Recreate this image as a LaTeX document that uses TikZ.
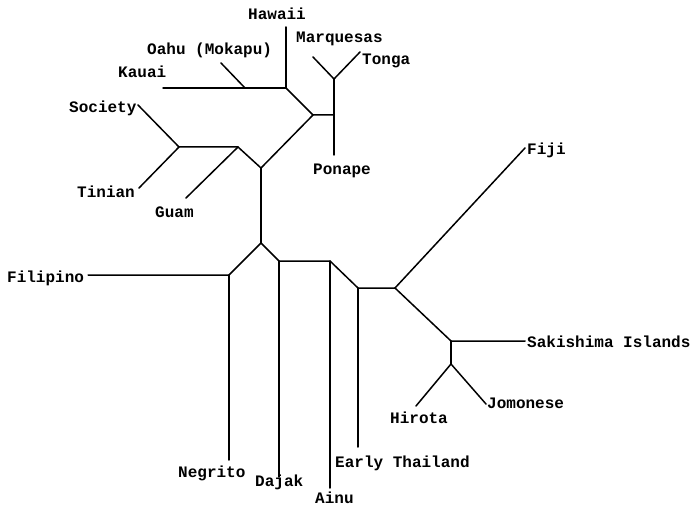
\documentclass[tikz,border=0pt]{standalone}
\usepackage{fontspec}
\setmonofont{Liberation Mono}
\begin{document}
\begin{tikzpicture}[x=1pt,y=-1pt,
  edge/.style={line width=1.5pt,line cap=round,line join=round},
  lbl/.style={inner sep=0pt,anchor=base west,font=\ttfamily\bfseries\fontsize{16}{16}\selectfont}]
\useasboundingbox[fill=white] (0,0) rectangle (691,508);
% internal vertices
\coordinate (hw) at (286,88);
\coordinate (oh) at (245,88);
\coordinate (pm) at (313,115);
\coordinate (pp) at (334,115);
\coordinate (mt) at (334,79);
\coordinate (st) at (179,147);
\coordinate (gu) at (238,147);
\coordinate (pa) at (261,168);
\coordinate (root) at (261,243);
\coordinate (fi) at (229,275);
\coordinate (dj) at (279,261);
\coordinate (ai) at (330,261);
\coordinate (et) at (358,288);
\coordinate (fj) at (395,288);
\coordinate (sk) at (451,341);
\coordinate (hj) at (451,364);
% leaf ends
\coordinate (eHawaii) at (286,27);
\coordinate (eKauai) at (163,88);
\coordinate (eOahu) at (221,63);
\coordinate (eMarq) at (313,57);
\coordinate (eTonga) at (360,52);
\coordinate (ePonape) at (334,155);
\coordinate (eSociety) at (138,105);
\coordinate (eTinian) at (139,188);
\coordinate (eGuam) at (186,198);
\coordinate (eFilipino) at (88,275);
\coordinate (eNegrito) at (229,460);
\coordinate (eDajak) at (279,477);
\coordinate (eAinu) at (330,488);
\coordinate (eEarly) at (358,447);
\coordinate (eFiji) at (525,148);
\coordinate (eSaki) at (525,341);
\coordinate (eHirota) at (416,406);
\coordinate (eJomo) at (486,404);
% labels
\node[lbl] (Hawaii) at (248,20) {Hawaii};
\node[lbl] (Oahu) at (147,55) {Oahu (Mokapu)};
\node[lbl] (Marq) at (296,43) {Marquesas};
\node[lbl] (Tonga) at (362,65) {Tonga};
\node[lbl] (Kauai) at (118,78) {Kauai};
\node[lbl] (Society) at (69,113) {Society};
\node[lbl] (Tinian) at (77,197) {Tinian};
\node[lbl] (Guam) at (155,218) {Guam};
\node[lbl] (Ponape) at (313,175) {Ponape};
\node[lbl] (Filipino) at (7,282) {Filipino};
\node[lbl] (Negrito) at (178,477) {Negrito};
\node[lbl] (Dajak) at (255,486) {Dajak};
\node[lbl] (Ainu) at (315,503) {Ainu};
\node[lbl] (Early) at (335,467) {Early Thailand};
\node[lbl] (Hirota) at (390,423) {Hirota};
\node[lbl] (Fiji) at (527,155) {Fiji};
\node[lbl] (Saki) at (527,347) {Sakishima Islands};
\node[lbl] (Jomo) at (487,408) {Jomonese};
% edges
\draw[edge] (eHawaii) -- (hw);
\draw[edge] (eKauai) -- (oh) -- (hw);
\draw[edge] (eOahu) -- (oh);
\draw[edge] (hw) -- (pm) -- (pp);
\draw[edge] (mt) -- (ePonape);
\draw[edge] (eMarq) -- (mt) -- (eTonga);
\draw[edge] (eSociety) -- (st) -- (eTinian);
\draw[edge] (st) -- (gu) -- (pa);
\draw[edge] (eGuam) -- (gu);
\draw[edge] (pa) -- (pm);
\draw[edge] (pa) -- (root);
\draw[edge] (root) -- (fi) -- (eFilipino);
\draw[edge] (fi) -- (eNegrito);
\draw[edge] (root) -- (dj) -- (ai) -- (et) -- (fj);
\draw[edge] (dj) -- (eDajak);
\draw[edge] (ai) -- (eAinu);
\draw[edge] (et) -- (eEarly);
\draw[edge] (fj) -- (eFiji);
\draw[edge] (fj) -- (sk) -- (eSaki);
\draw[edge] (sk) -- (hj);
\draw[edge] (eHirota) -- (hj) -- (eJomo);
\end{tikzpicture}
\end{document}
